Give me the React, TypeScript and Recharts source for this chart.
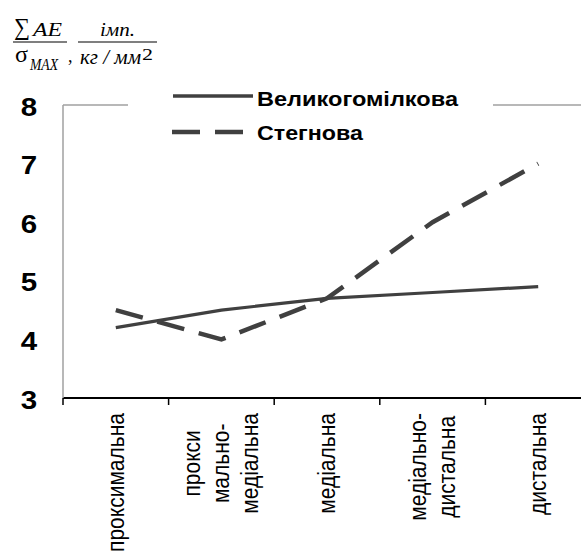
import React from 'react';
import { LineChart, Line, XAxis, YAxis, ReferenceLine } from 'recharts';

const categories = [
  ['проксимальна'],
  ['прокси', 'мально-', 'медіальна'],
  ['медіальна'],
  ['медіально-', 'дистальна'],
  ['дистальна'],
];
const velykogomilkova = [4.2, 4.5, 4.7, 4.8, 4.9];
const stegnova = [4.5, 4.0, 4.7, 6.0, 7.0];
const yTicks = [3, 4, 5, 6, 7, 8];
const seriesNames = ['Великогомілкова', 'Стегнова'];

const data = categories.map((c, i) => ({
  pos: i + 0.5,
  v: velykogomilkova[i],
  s: stegnova[i],
}));
const xTicks = categories.flatMap((_, i) => [i, i + 0.5]).concat(categories.length);

const LINE = '#404040';
const AXIS_GREY = '#a0a0a0';
const SANS = "'Liberation Sans', Arial, sans-serif";
const SERIF = "'Liberation Serif', 'Times New Roman', serif";
const LABEL_SIZE = 21;

let ctx: CanvasRenderingContext2D | null = null;
function measure(t: string) {
  if (!ctx) ctx = document.createElement('canvas').getContext('2d');
  if (!ctx) return t.length * LABEL_SIZE * 0.53;
  ctx.font = `${LABEL_SIZE}px 'Liberation Sans'`;
  return ctx.measureText(t).width;
}

function XTick(props: any) {
  const { x, y, payload } = props;
  const v = payload.value;
  if (Number.isInteger(v)) {
    return <line x1={x} y1={y} x2={x} y2={y + 7} stroke="#000" strokeWidth={1.5} />;
  }
  const lines = categories[Math.floor(v)];
  const block = Math.max(...lines.map(measure));
  const cy = y + 15 + block / 2;
  const n = lines.length;
  return (
    <g>
      {lines.map((t, k) => {
        const lx = x + (k - (n - 1) / 2) * 29;
        return (
          <g key={k} transform={`translate(${lx} ${cy}) scale(1.15 1) rotate(-90)`}>
            <text
              x={0}
              y={0}
              textAnchor="middle"
              dominantBaseline="central"
              fontSize={LABEL_SIZE}
              fontFamily={SANS}
              fill="#000"
            >
              {t}
            </text>
          </g>
        );
      })}
    </g>
  );
}

function YTick(props: any) {
  const { y, payload } = props;
  return (
    <g transform={`translate(29 ${y + 2}) scale(1.18 1)`}>
      <text x={0} y={0} textAnchor="middle" dominantBaseline="central" fontSize={25} fontWeight="bold" fontFamily={SANS} fill="#000">
        {payload.value}
      </text>
    </g>
  );
}

function Formula() {
  return (
    <svg width={200} height={80} style={{ position: 'absolute', left: 0, top: 0 }}>
      <g fontFamily={SERIF} fill="#000">
        <text x={14} y={35} fontSize={24} textLength={16} lengthAdjust="spacingAndGlyphs">∑</text>
        <text x={33} y={36} fontSize={18} fontStyle="italic" textLength={29} lengthAdjust="spacingAndGlyphs">AE</text>
        <line x1={13} y1={42} x2={67} y2={42} stroke="#000" strokeWidth={1.2} />
        <text x={15} y={62} fontSize={24} textLength={13} lengthAdjust="spacingAndGlyphs">σ</text>
        <text x={30} y={70} fontSize={16} fontStyle="italic" textLength={28} lengthAdjust="spacingAndGlyphs">MAX</text>
        <text x={68} y={62} fontSize={18}>,</text>
        <text x={100} y={36} fontSize={19} fontStyle="italic" textLength={35} lengthAdjust="spacingAndGlyphs">імп.</text>
        <line x1={78} y1={42} x2={157} y2={42} stroke="#000" strokeWidth={1.2} />
        <text x={80} y={64} fontSize={21} fontStyle="italic" textLength={61} lengthAdjust="spacingAndGlyphs">кг / мм</text>
        <text x={142} y={60} fontSize={17} textLength={11} lengthAdjust="spacingAndGlyphs">2</text>
      </g>
    </svg>
  );
}

function LegendBox() {
  return (
    <svg width={365} height={65} style={{ position: 'absolute', left: 128, top: 83, background: '#fff' }}>
      <line x1={45} y1={13} x2={125} y2={13} stroke={LINE} strokeWidth={3.5} />
      <text x={129} y={23} fontSize={19.5} fontWeight="bold" fontFamily={SANS} textLength={201} lengthAdjust="spacingAndGlyphs">
        {seriesNames[0]}
      </text>
      <line x1={44} y1={49} x2={115} y2={49} stroke={LINE} strokeWidth={4.5} strokeDasharray="28 15" />
      <text x={129} y={57} fontSize={19.5} fontWeight="bold" fontFamily={SANS} textLength={106} lengthAdjust="spacingAndGlyphs">
        {seriesNames[1]}
      </text>
    </svg>
  );
}

export default function App() {
  return (
    <div style={{ position: 'absolute', left: 0, top: 0, width: 581, height: 554, overflow: 'hidden', background: '#fff' }}>
      <LineChart width={600} height={554} data={data} margin={{ top: 105, right: 9, bottom: 0, left: 0 }}>
        <XAxis
          dataKey="pos"
          type="number"
          domain={[0, categories.length]}
          ticks={xTicks}
          interval={0}
          tickLine={false}
          tickSize={0}
          tickMargin={0}
          axisLine={{ stroke: '#000', strokeWidth: 2 }}
          height={156}
          tick={<XTick />}
        />
        <YAxis
          type="number"
          domain={[3, 8]}
          ticks={yTicks}
          interval={0}
          width={63}
          tickLine={false}
          axisLine={{ stroke: AXIS_GREY, strokeWidth: 1.5 }}
          tick={<YTick />}
        />
        <ReferenceLine y={8} stroke={AXIS_GREY} strokeWidth={1.5} />
        <Line dataKey="v" name={seriesNames[0]} type="linear" stroke={LINE} strokeWidth={3.2} dot={false} isAnimationActive={false} />
        <Line dataKey="s" name={seriesNames[1]} type="linear" stroke={LINE} strokeWidth={4.5} strokeDasharray="28 15" dot={false} isAnimationActive={false} />
      </LineChart>
      <Formula />
      <LegendBox />
    </div>
  );
}
